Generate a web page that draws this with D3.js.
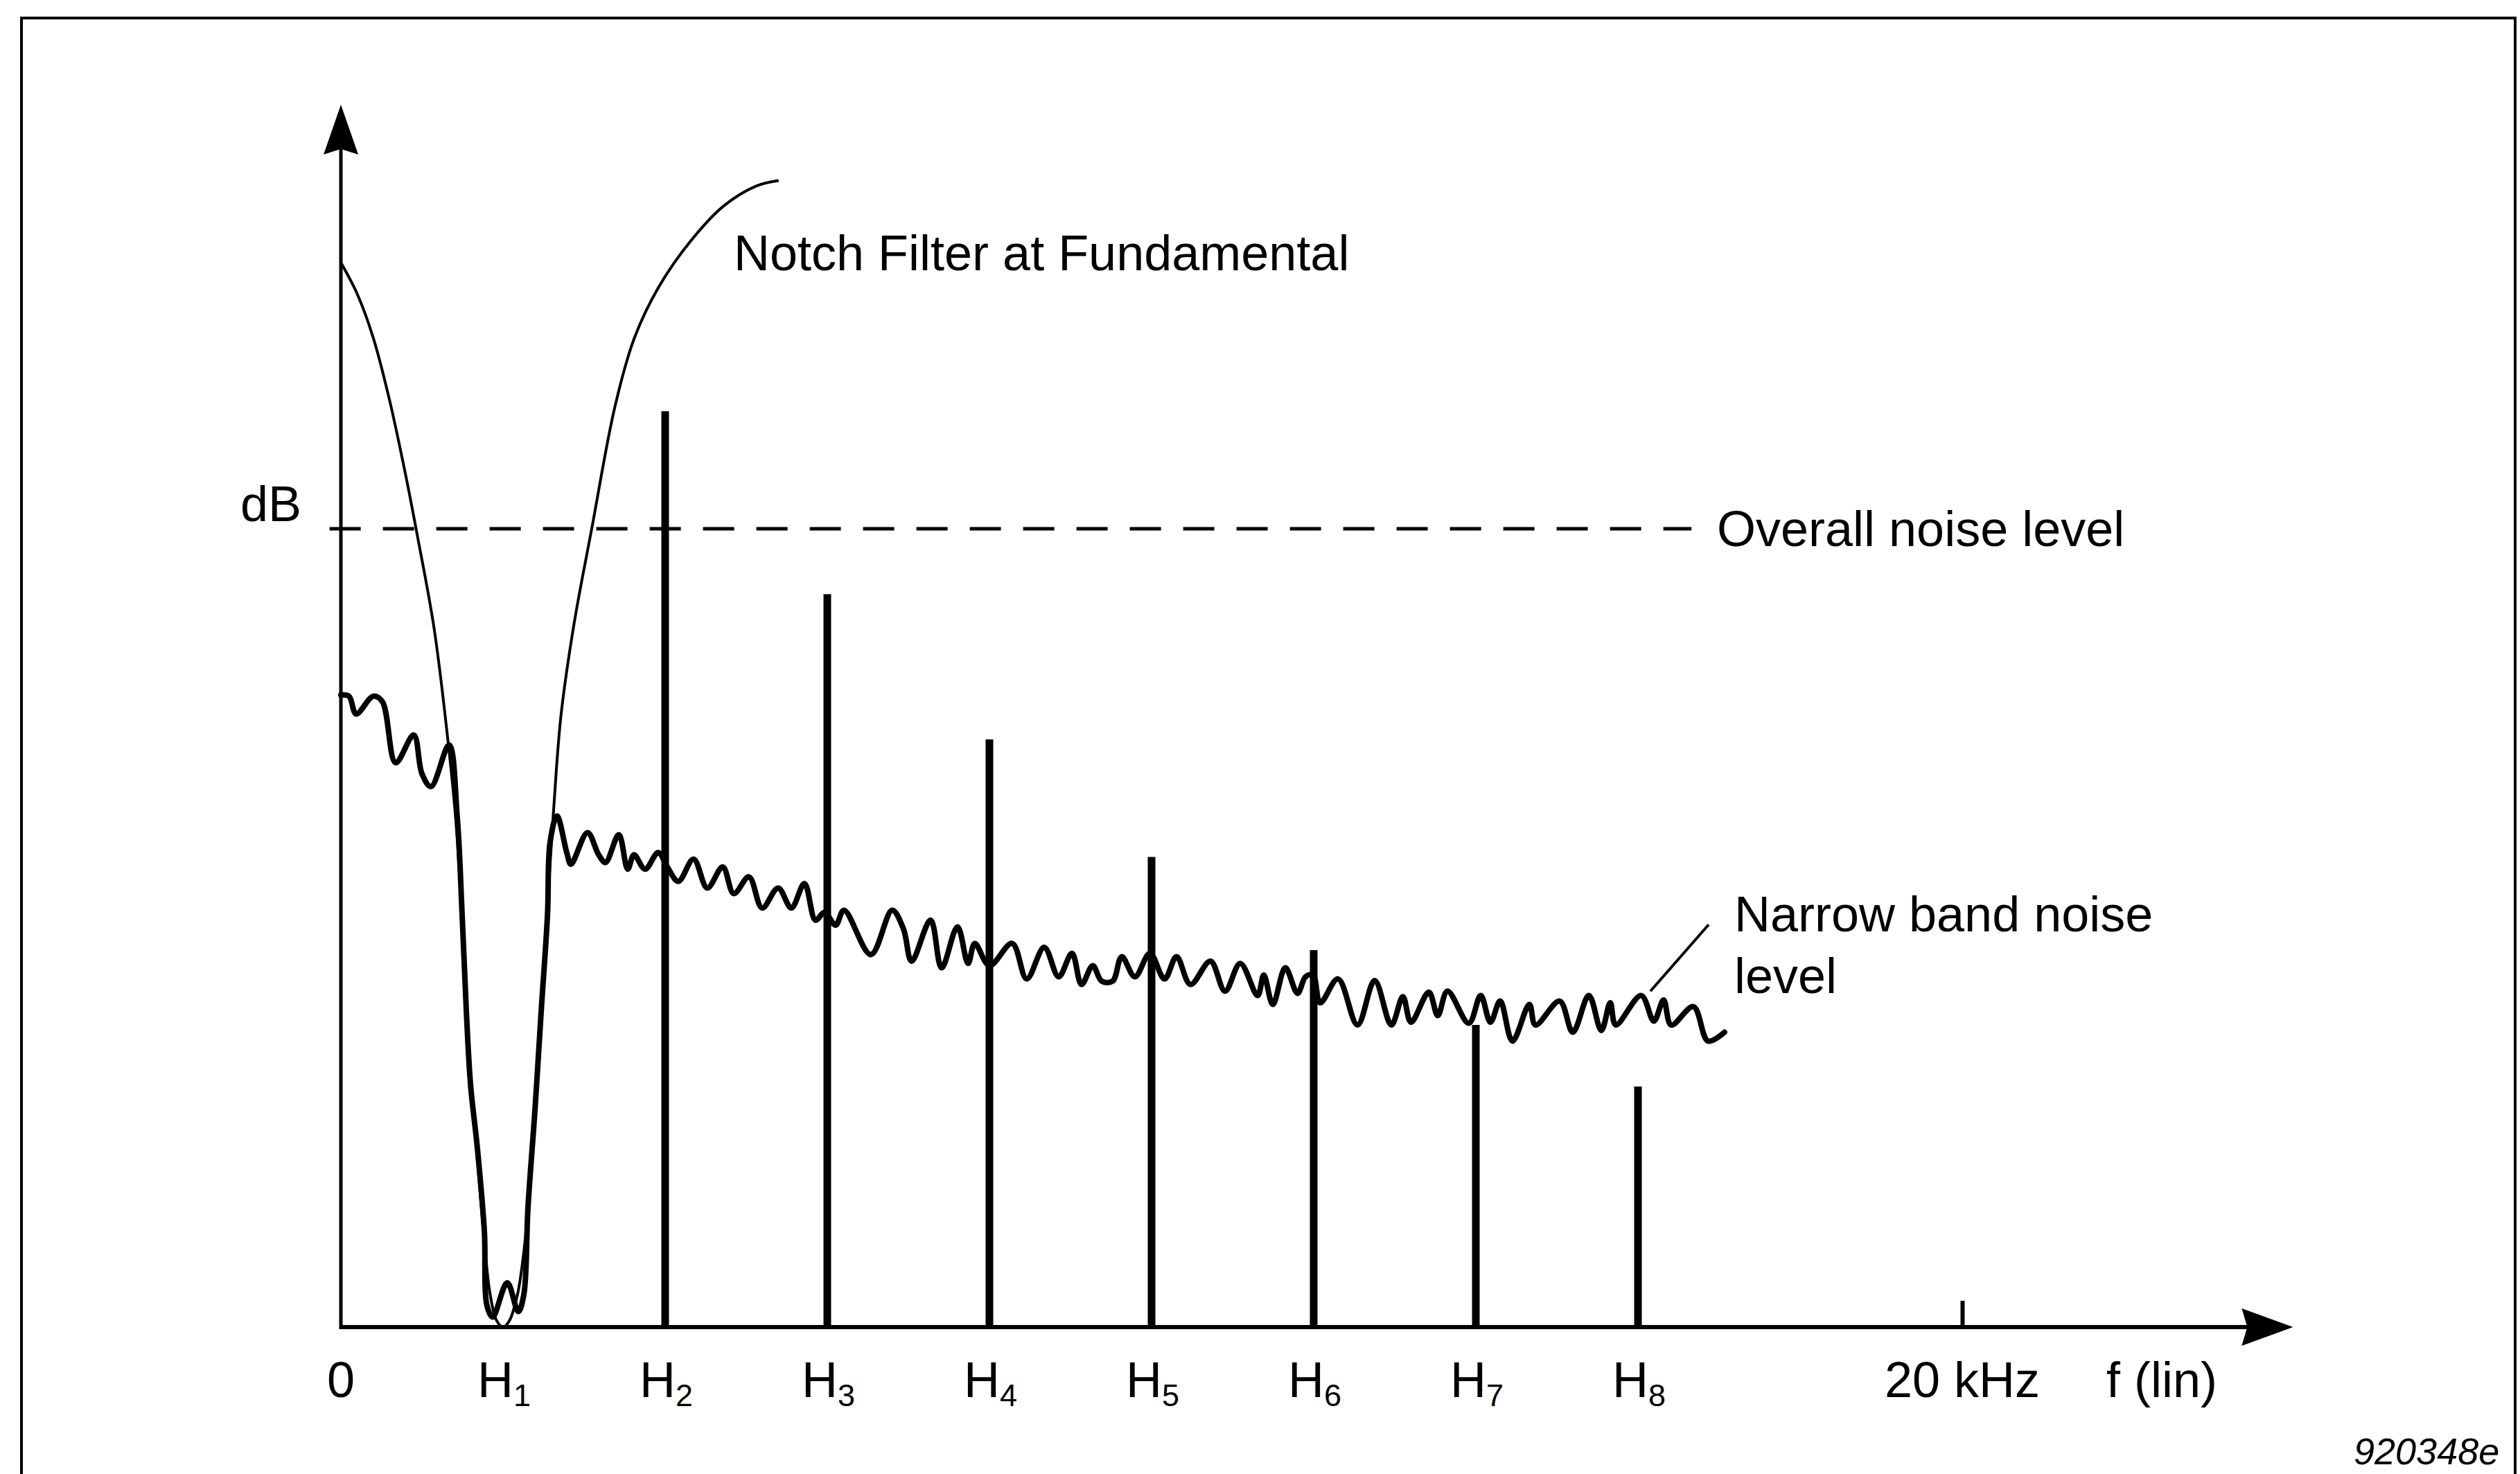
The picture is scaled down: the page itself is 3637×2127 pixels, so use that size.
<!DOCTYPE html>
<html>
<head>
<meta charset="utf-8">
<script src="https://cdn.jsdelivr.net/npm/d3@7/dist/d3.min.js"></script>
<style>
  html, body { margin: 0; padding: 0; background: #fff; }
  svg { display: block; }
  text { font-family: "Liberation Sans", Arial, Helvetica, sans-serif; fill: #000; }
</style>
</head>
<body>
<script>
// ---------- data (x in harmonic number of a 2 kHz fundamental, y in relative dB units) ----------
const harmonicNumbers = [2, 3, 4, 5, 6, 7, 8];
const harmonicLevels  = [82.6, 66.1, 53.0, 42.4, 34.0, 27.25, 21.7];

const overallNoiseLevel = 72;
const overallNoiseExtent = [-0.07, 8.33];

const tickPositions = [0, 1, 2, 3, 4, 5, 6, 7, 8, 10];
const tickMain = ["0", "H", "H", "H", "H", "H", "H", "H", "H", "20 kHz"];
const tickSub  = ["", "1", "2", "3", "4", "5", "6", "7", "8", ""];
const bandLimitTick = [10];       // 20 kHz
const axisLabelX = "f (lin)";
const axisLabelY = "dB";

const notchCurve = [
  [0, 96], [0.1, 93.2], [0.2, 89.2], [0.3, 83.6], [0.4, 76.8], [0.47, 71.5],
  [0.575, 63], [0.667, 52], [0.71, 45.5], [0.745, 37.5], [0.775, 28.5],
  [0.8, 22], [0.84, 15.5], [0.88, 8.5], [0.92, 3], [0.96, 0.6], [1.0, 0], [1.04, 0.6],
  [1.09, 3], [1.13, 7], [1.17, 13.5], [1.2, 19.6], [1.235, 28.4], [1.27, 37], [1.3, 44],
  [1.33, 50.5], [1.36, 55.5], [1.44, 63.6], [1.547, 72], [1.69, 83], [1.81, 89.2],
  [1.96, 93.8], [2.16, 98], [2.36, 101.1], [2.56, 102.9], [2.7, 103.4]
];

const noiseCurve = [
  [0, 57], [0.05, 56.9], [0.094, 55.3], [0.2, 56.9], [0.256, 56.4], [0.338, 50.9],
  [0.449, 53.4], [0.5, 49.9], [0.556, 48.75], [0.667, 52.5], [0.718, 45.9], [0.748, 37.1],
  [0.774, 28.4], [0.8, 21.8], [0.842, 16.1], [0.885, 8.6], [0.9, 2], [0.936, 0.9],
  [1.026, 4.0], [1.094, 1.4], [1.128, 2.9], [1.154, 10.8], [1.197, 19.6], [1.235, 28.4],
  [1.274, 37.1], [1.29, 43.7], [1.333, 46.1], [1.393, 42.8], [1.419, 41.75], [1.521, 44.6],
  [1.59, 42.6], [1.632, 41.9], [1.714, 44.4], [1.769, 41.3], [1.808, 42.6], [1.876, 41.3],
  [1.957, 42.8], [2.013, 41.5], [2.081, 40.2], [2.175, 42.2], [2.26, 39.6], [2.355, 41.5],
  [2.423, 39.1], [2.517, 40.6], [2.598, 37.8], [2.697, 39.6], [2.778, 37.8], [2.859, 40.0],
  [2.927, 36.7], [2.983, 37.4], [3.051, 36.25], [3.103, 37.6], [3.269, 33.6], [3.4, 37.6],
  [3.47, 35.9], [3.52, 33.0], [3.637, 36.7], [3.705, 32.4], [3.803, 36.1], [3.868, 32.8],
  [3.91, 34.6], [4.0, 32.6], [4.14, 34.6], [4.23, 31.4], [4.338, 34.25], [4.427, 31.6],
  [4.509, 33.7], [4.568, 30.9], [4.637, 32.6], [4.692, 31.2], [4.76, 31.2], [4.816, 33.4],
  [4.897, 31.6], [4.99, 33.7], [5.08, 31.4], [5.154, 33.4], [5.24, 30.9], [5.363, 33.0],
  [5.453, 30.3], [5.547, 32.8], [5.654, 29.9], [5.692, 31.75], [5.748, 29.1], [5.825, 32.4],
  [5.9, 30.1], [5.95, 31.6], [5.996, 31.75], [6.04, 29.25], [6.15, 31.4], [6.27, 27.25],
  [6.376, 31.25], [6.479, 27.25], [6.55, 29.8], [6.6, 27.5], [6.71, 30.2], [6.765, 28.1],
  [6.825, 30.3], [6.957, 27.4], [7.03, 29.9], [7.09, 27.5], [7.15, 29.4], [7.226, 25.8],
  [7.33, 29.1], [7.368, 27.25], [7.517, 29.4], [7.598, 26.6], [7.697, 29.9], [7.774, 26.75],
  [7.829, 29.25], [7.863, 27.25], [8.02, 29.9], [8.098, 27.6], [8.158, 29.5], [8.205, 27.25],
  [8.342, 28.9], [8.432, 25.8], [8.534, 26.6]
];

const leaderLine = [[8.077, 30.3], [8.436, 36.3]];

const notchLabel = "Notch Filter at Fundamental";
const overallLabel = "Overall noise level";
const narrowLabel = ["Narrow band noise", "level"];
const figureId = "920348e";

// ---------- layout ----------
const W = 3637, H = 2127;
const svg = d3.select("body").append("svg").attr("width", W).attr("height", H);
svg.append("rect").attr("width", W).attr("height", H).attr("fill", "#fff");

// frame
svg.append("rect").attr("x", 31).attr("y", 26).attr("width", 3599).attr("height", 2300)
  .attr("fill", "none").attr("stroke", "#000").attr("stroke-width", 4);

const x = d3.scaleLinear().domain([0, 10]).range([492, 2832]);
const y = d3.scaleLinear().domain([0, 110]).range([1915, 155]);

const xMax = 12.04, yMax = 110.25;

// axes lines
const axes = svg.append("g").attr("stroke", "#000");
axes.append("line").attr("x1", x(0)).attr("x2", x(0)).attr("y1", y(0) + 3).attr("y2", y(yMax) + 40)
  .attr("stroke-width", 5);
axes.append("line").attr("x1", x(0) - 2).attr("x2", x(xMax) - 40).attr("y1", y(0)).attr("y2", y(0))
  .attr("stroke-width", 6);

// arrowheads
svg.append("path")
  .attr("d", `M${x(0)},${y(yMax)} L${x(0) + 25},${y(yMax) + 72} L${x(0)},${y(yMax) + 64} L${x(0) - 25},${y(yMax) + 72} Z`)
  .attr("fill", "#000");
svg.append("path")
  .attr("d", `M${x(xMax)},${y(0)} L${x(xMax) - 74},${y(0) - 27} L${x(xMax) - 66},${y(0)} L${x(xMax) - 74},${y(0) + 27} Z`)
  .attr("fill", "#000");

// 20 kHz tick via d3 axis
const tickAxis = d3.axisBottom(x).tickValues(bandLimitTick).tickSizeInner(-38).tickSizeOuter(0).tickFormat("");
const tg = svg.append("g").attr("transform", `translate(0,${y(0)})`).call(tickAxis);
tg.select(".domain").remove();
tg.selectAll(".tick line").attr("stroke", "#000").attr("stroke-width", 6);

// overall noise level (dashed)
svg.append("line")
  .attr("x1", x(overallNoiseExtent[0])).attr("x2", x(overallNoiseExtent[1]))
  .attr("y1", y(overallNoiseLevel)).attr("y2", y(overallNoiseLevel))
  .attr("stroke", "#000").attr("stroke-width", 5).attr("stroke-dasharray", "45,32");

// harmonic bars
svg.append("g").selectAll("rect").data(harmonicNumbers).join("rect")
  .attr("x", d => x(d) - 5.5)
  .attr("width", 11)
  .attr("y", (d, i) => y(harmonicLevels[i]))
  .attr("height", (d, i) => y(0) - y(harmonicLevels[i]))
  .attr("fill", "#000");

// notch filter curve (thin)
const line = d3.line().x(d => x(d[0])).y(d => y(d[1])).curve(d3.curveCatmullRom.alpha(0.5));
svg.append("path").datum(notchCurve).attr("d", line)
  .attr("fill", "none").attr("stroke", "#000").attr("stroke-width", 4);

// narrow band noise (thick wavy)
svg.append("path").datum(noiseCurve).attr("d", line)
  .attr("fill", "none").attr("stroke", "#000").attr("stroke-width", 8)
  .attr("stroke-linejoin", "round").attr("stroke-linecap", "round");

// leader line
svg.append("path").datum(leaderLine).attr("d", d3.line().x(d => x(d[0])).y(d => y(d[1])))
  .attr("fill", "none").attr("stroke", "#000").attr("stroke-width", 4);

// ---------- text ----------
const fs = 72;
const lbl = svg.append("g").attr("font-size", fs);
tickPositions.forEach((p, i) => {
  if (tickSub[i]) {
    const t = lbl.append("text").attr("x", x(p) - 37).attr("y", 2016);
    t.append("tspan").text(tickMain[i]);
    t.append("tspan").attr("font-size", 45).attr("dy", 13).text(tickSub[i]);
  } else {
    lbl.append("text").attr("x", x(p)).attr("y", 2016).attr("text-anchor", "middle").text(tickMain[i]);
  }
});
lbl.append("text").attr("x", 3040).attr("y", 2016).text(axisLabelX);
lbl.append("text").attr("x", 391).attr("y", 752).attr("text-anchor", "middle").text(axisLabelY);

lbl.append("text").attr("x", 1059).attr("y", 390).text(notchLabel);
lbl.append("text").attr("x", 2478).attr("y", 788).text(overallLabel);
lbl.append("text").attr("x", 2503).attr("y", 1344).text(narrowLabel[0]);
lbl.append("text").attr("x", 2503).attr("y", 1433).text(narrowLabel[1]);

svg.append("text").attr("x", 3397).attr("y", 2113).attr("font-size", 54)
  .attr("font-style", "italic").text(figureId);
</script>
</body>
</html>
